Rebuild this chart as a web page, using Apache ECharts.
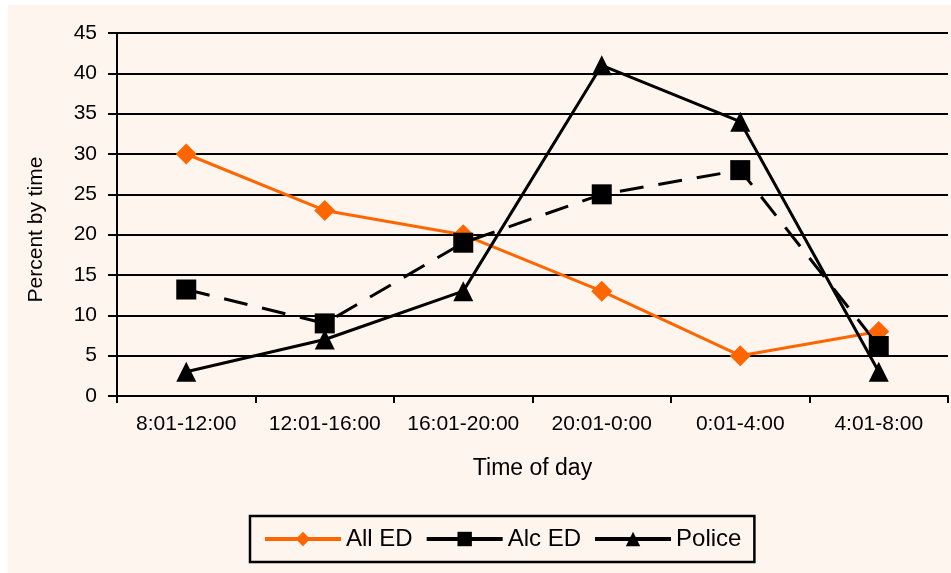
<!DOCTYPE html>
<html>
<head>
<meta charset="utf-8">
<script src="https://cdn.jsdelivr.net/npm/echarts@6/dist/echarts.min.js"></script>
<style>
  html, body { margin: 0; padding: 0; background: #ffffff; }
  #chart { position: absolute; left: 8px; top: 5px; width: 943px; height: 568px; }
</style>
</head>
<body>
<div id="chart"></div>
<script>
const categories = ['8:01-12:00', '12:01-16:00', '16:01-20:00', '20:01-0:00', '0:01-4:00', '4:01-8:00'];
const allED = [30, 23, 20, 13, 5, 8];
const alcED = [13.2, 9, 19, 25, 28, 6.2];
const police = [3, 7, 13, 41, 34, 3];
const yTicks = { min: 0, max: 45, interval: 5 };

const FONT = '"Liberation Sans", Arial, sans-serif';
const chart = echarts.init(document.getElementById('chart'));
chart.setOption({
  backgroundColor: '#fef5ee',
  animation: false,
  textStyle: { fontFamily: FONT, color: '#000' },
  grid: { left: 109, right: 3, top: 28, bottom: 177, containLabel: false },
  legend: {
    left: 242, top: 511,
    padding: [11, 13],
    borderColor: '#000', borderWidth: 2.5,
    itemWidth: 76, itemHeight: 18, itemGap: 12,
    lineStyle: { type: 'solid', width: 4 },
    textStyle: { fontSize: 24, fontFamily: FONT, color: '#000' },
    data: ['All ED', 'Alc ED', 'Police']
  },
  xAxis: {
    type: 'category',
    data: categories,
    boundaryGap: true,
    name: 'Time of day',
    nameLocation: 'middle',
    nameGap: 61,
    nameTextStyle: { fontSize: 23, color: '#000', fontFamily: FONT },
    axisLine: { lineStyle: { color: '#000', width: 2 } },
    axisTick: { show: true, interval: 0, length: 7, lineStyle: { color: '#000', width: 2 } },
    axisLabel: { interval: 0, fontSize: 21, color: '#000', margin: 18, fontFamily: FONT }
  },
  yAxis: {
    type: 'value',
    min: yTicks.min, max: yTicks.max, interval: yTicks.interval,
    name: 'Percent by time',
    nameLocation: 'middle',
    nameGap: 70,
    nameTextStyle: { fontSize: 21, color: '#000', fontFamily: FONT, padding: [0, 30, 0, 0] },
    axisLine: { show: true, lineStyle: { color: '#000', width: 2 } },
    axisTick: { show: true, length: 9, lineStyle: { color: '#000', width: 2 } },
    axisLabel: { fontSize: 21, color: '#000', margin: 20, fontFamily: FONT },
    splitLine: { show: true, lineStyle: { color: '#000', width: 2 } }
  },
  series: [
    {
      name: 'All ED', type: 'line', data: allED,
      symbol: 'diamond', symbolSize: 21,
      itemStyle: { color: '#ff6600' },
      lineStyle: { color: '#ff6600', width: 3 }
    },
    {
      name: 'Alc ED', type: 'line', data: alcED,
      symbol: 'rect', symbolSize: 20,
      itemStyle: { color: '#000' },
      lineStyle: { color: '#000', width: 3, type: [24, 15] }
    },
    {
      name: 'Police', type: 'line', data: police,
      symbol: 'triangle', symbolSize: [20, 20],
      itemStyle: { color: '#000' },
      lineStyle: { color: '#000', width: 3 }
    }
  ]
});
</script>
</body>
</html>
